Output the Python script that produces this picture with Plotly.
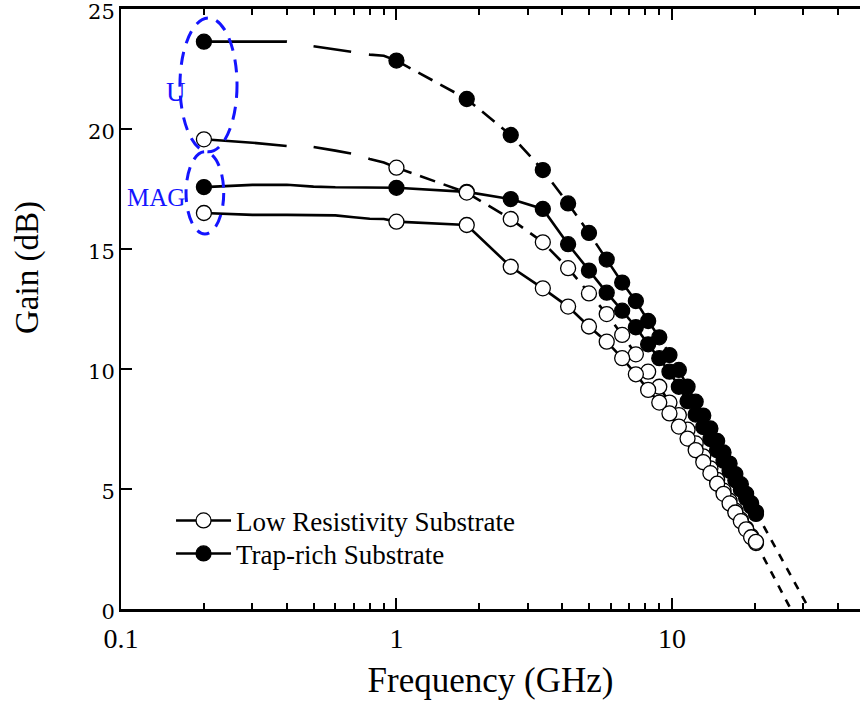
import plotly.graph_objects as go

# ---------------- data ----------------
f_low = [0.2, 0.3, 0.4, 0.5, 0.6, 0.7, 0.8, 0.9, 1.0]
trap_u_low = [23.64, 23.64, 23.64, 23.45, 23.32, 23.2, 23.1, 23.05, 22.85]
lowres_u_low = [19.57, 19.43, 19.29, 19.25, 19.1, 18.96, 18.75, 18.6, 18.39]
trap_mag_low = [17.58, 17.67, 17.68, 17.6, 17.57, 17.57, 17.57, 17.56, 17.55]
lowres_mag_low = [16.5, 16.42, 16.42, 16.42, 16.4, 16.32, 16.26, 16.25, 16.14]

f_meas = [1.0, 1.8, 2.6, 3.4, 4.2, 5.0, 5.8, 6.6, 7.4, 8.2, 9.0, 9.8, 10.6,
          11.4, 12.2, 13.0, 13.8, 14.6, 15.4, 16.2, 17.0, 17.8, 18.6, 19.4, 20.2]
trap_u = [22.85, 21.25, 19.75, 18.29, 16.9, 15.67, 14.56, 13.6, 12.83, 12.0, 11.32, 10.58, 9.96,
          9.26, 8.64, 8.06, 7.52, 7.0, 6.52, 6.06, 5.62, 5.2, 4.8, 4.41, 4.04]
trap_mag = [17.55, 17.38, 17.08, 16.67, 15.2, 14.1, 13.18, 12.43, 11.74, 11.03, 10.45, 9.89, 9.26,
            8.66, 8.1, 7.58, 7.08, 6.62, 6.18, 5.76, 5.36, 4.98, 4.62, 4.27, 3.96]
lowres_u = [18.39, 17.35, 16.25, 15.28, 14.2, 13.15, 12.29, 11.42, 10.61, 9.89, 9.26, 8.6, 8.08,
            7.47, 6.9, 6.36, 5.86, 5.38, 4.93, 4.51, 4.1, 3.72, 3.36, 3.04, 2.75]
lowres_mag = [16.14, 16.0, 14.26, 13.36, 12.6, 11.77, 11.14, 10.45, 9.78, 9.13, 8.6, 8.15, 7.6,
              7.1, 6.62, 6.12, 5.66, 5.22, 4.8, 4.4, 4.02, 3.66, 3.32, 2.99, 2.8]

# -20 dB/dec extrapolation of U (fmax)
trap_extrap_f = [20.2, 31.5]
trap_extrap_g = [4.04, 0.0]
lowres_extrap_f = [20.2, 27.0]
lowres_extrap_g = [2.75, 0.0]

x_tickvals = [0.1, 1, 10]
x_ticktext = ["0.1", "1", "10"]
x_minor = [0.2, 0.3, 0.4, 0.5, 0.6, 0.7, 0.8, 0.9, 2, 3, 4, 5, 6, 7, 8, 9, 20, 30, 40]
y_tickvals = [0, 5, 10, 15, 20, 25]

FONT = "Liberation Serif"
BLACK = "#000000"
LW = 2.6
MS = 15

fig = go.Figure()

def low_line(y, dash):
    fig.add_trace(go.Scatter(x=f_low, y=y, mode="lines", showlegend=False,
                             line=dict(color=BLACK, width=LW, dash=dash), hoverinfo="skip"))

def markers(f0, y0, y, filled, dash):
    fig.add_trace(go.Scatter(x=f_meas, y=y, mode="lines", showlegend=False,
                             line=dict(color=BLACK, width=LW, dash=dash), hoverinfo="skip"))
    fig.add_trace(go.Scatter(
        x=[f0] + f_meas, y=[y0] + y, mode="markers", showlegend=False,
        marker=dict(size=MS, symbol="circle",
                    color=BLACK if filled else "white",
                    line=dict(color=BLACK, width=1.3))))

U_LOW_DASH = "83px,27px,38px,18px,40px,18px"
U_DASH = "16px,9px"
EXT_DASH = "8px,8px"

low_line(trap_u_low, U_LOW_DASH)
low_line(trap_mag_low, "solid")
fig.add_trace(go.Scatter(x=trap_extrap_f, y=trap_extrap_g, mode="lines", showlegend=False,
                         line=dict(color=BLACK, width=LW, dash=EXT_DASH)))
fig.add_trace(go.Scatter(x=lowres_extrap_f, y=lowres_extrap_g, mode="lines", showlegend=False,
                         line=dict(color=BLACK, width=LW, dash=EXT_DASH)))
low_line(lowres_u_low, U_LOW_DASH)
low_line(lowres_mag_low, "solid")

markers(f_low[0], trap_u_low[0], trap_u, True, U_DASH)
markers(f_low[0], trap_mag_low[0], trap_mag, True, "solid")
markers(f_low[0], lowres_u_low[0], lowres_u, False, U_DASH)
markers(f_low[0], lowres_mag_low[0], lowres_mag, False, "solid")

# legend entries (one legend box per entry, to match the reference spacing)
fig.add_trace(go.Scatter(x=[None], y=[None], mode="lines+markers", name="Low Resistivity Substrate",
                         legend="legend",
                         line=dict(color=BLACK, width=LW),
                         marker=dict(size=MS, color="white", line=dict(color=BLACK, width=1.3))))
fig.add_trace(go.Scatter(x=[None], y=[None], mode="lines+markers", name="Trap-rich Substrate",
                         legend="legend2",
                         line=dict(color=BLACK, width=LW),
                         marker=dict(size=MS, color=BLACK, line=dict(color=BLACK, width=1.3))))

BLUE = "#1414ff"
fig.add_shape(type="circle", xref="paper", yref="paper",
              x0=0.0798, x1=0.157, y0=0.762, y1=0.985,
              line=dict(color=BLUE, width=3, dash="13px,9px"))
fig.add_shape(type="circle", xref="paper", yref="paper",
              x0=0.088, x1=0.139, y0=0.625, y1=0.762,
              line=dict(color=BLUE, width=3, dash="13px,9px"))
fig.add_annotation(text="U", xref="paper", yref="paper", x=0.0744, y=0.862,
                   xanchor="center", yanchor="middle",
                   showarrow=False, font=dict(family=FONT, size=27, color=BLUE))
fig.add_annotation(text="MAG", xref="paper", yref="paper", x=0.0474, y=0.685,
                   xanchor="center", yanchor="middle",
                   showarrow=False, font=dict(family=FONT, size=25, color=BLUE))
# y-axis title (placed as in the reference, above the axis centre)
fig.add_annotation(text="Gain (dB)", xref="paper", yref="paper", x=-0.1272, y=0.57,
                   xanchor="center", yanchor="middle", textangle=-90,
                   showarrow=False, font=dict(family=FONT, size=33, color=BLACK))

leg_common = dict(x=0.0677, xanchor="left", yanchor="top", itemwidth=55,
                  font=dict(family=FONT, size=27, color=BLACK),
                  bgcolor="rgba(0,0,0,0)")

fig.update_layout(
    width=860, height=705,
    margin=dict(l=121, r=0, t=9, b=96, autoexpand=False),
    paper_bgcolor="white", plot_bgcolor="white",
    font=dict(family=FONT, color=BLACK),
    legend=dict(y=0.1877, **leg_common),
    legend2=dict(y=0.1327, **leg_common),
    xaxis=dict(type="log", range=[-1, 1.683], automargin=False,
               tickvals=x_tickvals, ticktext=x_ticktext,
               ticks="inside", ticklen=11, tickwidth=2, tickcolor=BLACK,
               minor=dict(tickvals=x_minor, ticks="inside", ticklen=6, tickwidth=2, tickcolor=BLACK),
               showline=True, linewidth=3, linecolor=BLACK, mirror="ticks",
               showgrid=False, zeroline=False, ticklabelstandoff=2,
               tickfont=dict(family=FONT, size=28),
               title=dict(text="Frequency (GHz)", font=dict(family=FONT, size=35), standoff=15)),
    yaxis=dict(range=[0, 25], tickvals=y_tickvals, automargin=False,
               ticks="inside", ticklen=11, tickwidth=2, tickcolor=BLACK,
               showline=True, linewidth=2, linecolor=BLACK,
               showgrid=False, zeroline=False, ticklabeloverflow="allow",
               ticklabelshift=3,
               tickfont=dict(family="DejaVu Serif", size=21)),
    yaxis2=dict(overlaying="y", side="right", range=[0, 25], tickvals=y_tickvals,
                automargin=False,
                ticks="inside", ticklen=11, tickwidth=2, tickcolor=BLACK,
                showticklabels=False, showline=False, showgrid=False, zeroline=False),
)

fig.write_html("out.html")
